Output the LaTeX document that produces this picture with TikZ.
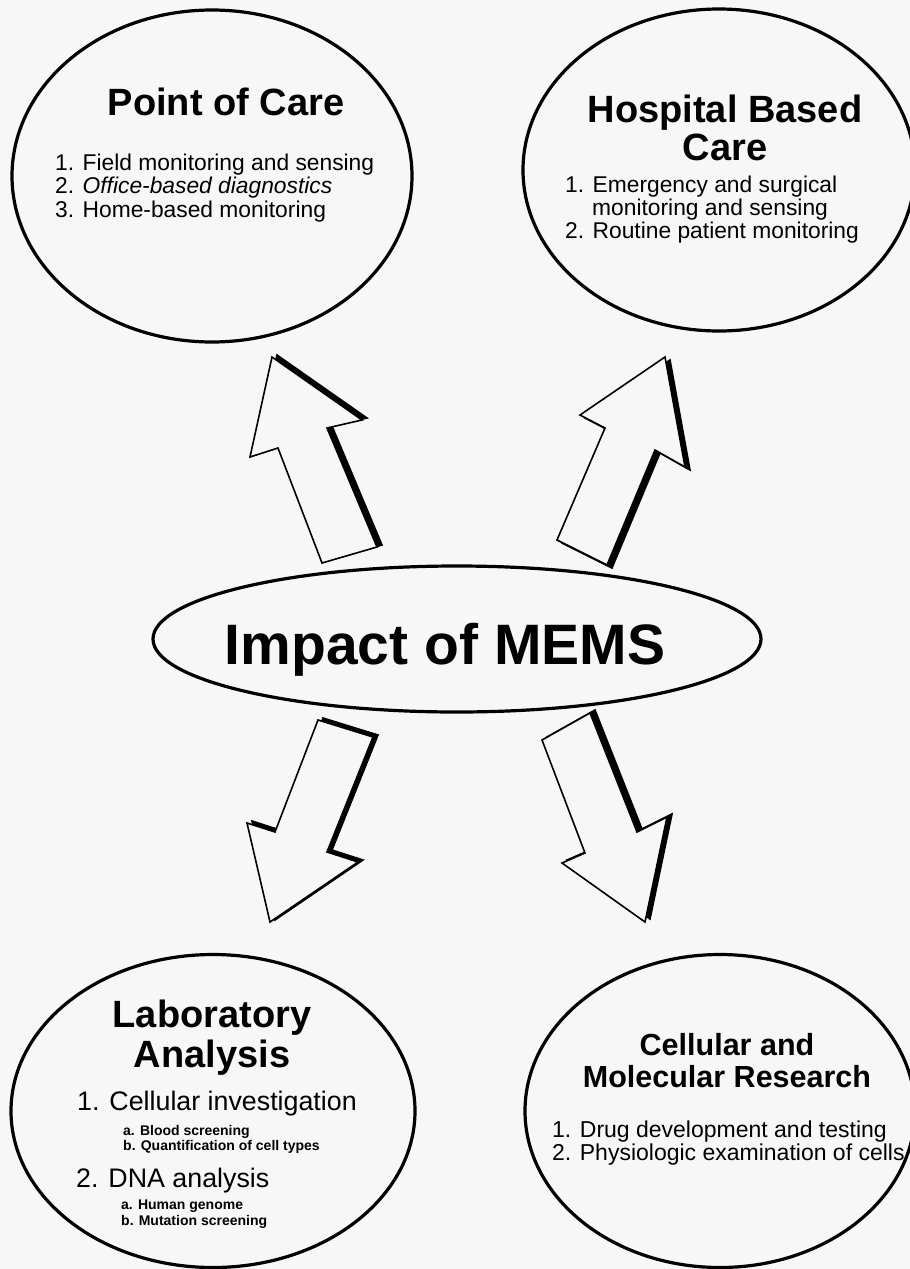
\documentclass[tikz,border=0pt]{standalone}
\usepackage{fontspec}
\setmainfont{Liberation Sans}
\usetikzlibrary{shapes.geometric}
\definecolor{paper}{HTML}{F7F7F7}
\tikzset{
  bubble/.style={ellipse, draw=black, line width=3.2pt, inner sep=0pt},
  title/.style={font=\bfseries\fontsize{38}{38}\selectfont, anchor=base, inner sep=0pt},
  item/.style={font=\fontsize{22.8}{23}\selectfont, anchor=base west, inner sep=0pt},
  subitem/.style={font=\bfseries\fontsize{14}{14}\selectfont, anchor=base west, inner sep=0pt},
  blockarrow/.style={fill=paper, draw=black, line width=1.6pt, line join=miter},
  arrowshadow/.style={fill=black, draw=black, line width=1.6pt}
}
\begin{document}
\begin{tikzpicture}[x=1pt,y=-1pt]
\useasboundingbox[fill=paper] (0,0) rectangle (910,1269);

% block arrows (shadow offset, then arrow body)
\foreach \sx/\sy/\p in {
  5/-2/{(272,357) -- (362,420) -- (327,428) -- (377,547) -- (322,563) -- (278,448) -- (250,457) -- cycle},
  5/3/{(665,357) -- (685,467) -- (655,450) -- (607,565) -- (557,540) -- (605,428) -- (580,415) -- cycle},
  5/-2/{(318,720) -- (373,737) -- (327,852) -- (358,862) -- (270,922) -- (247,823) -- (275,832) -- cycle},
  5/-3/{(542,740) -- (590,713) -- (637,832) -- (667,817) -- (645,922) -- (562,863) -- (585,853) -- cycle}}{
  \draw[arrowshadow, shift={(\sx,\sy)}] \p;
  \draw[blockarrow] \p;
}

% ellipses
\node[bubble, minimum width=400pt, minimum height=332pt] (poc) at (212,176) {};
\node[bubble, minimum width=392pt, minimum height=322pt] (hosp) at (719,170) {};
\node[bubble, minimum width=608pt, minimum height=146pt] (mems) at (457,639) {};
\node[bubble, minimum width=404pt, minimum height=313pt] (lab) at (213,1111) {};
\node[bubble, minimum width=390pt, minimum height=313pt] (cell) at (720,1111) {};

% Point of Care
\node[title] (poct) at (226,115) {Point of Care};
\node[item] (poc1) at (55,170) {1. Field monitoring and sensing};
\node[item] (poc2) at (55,193) {2. \itshape Office-based diagnostics};
\node[item] (poc3) at (55,217) {3. Home-based monitoring};

% Hospital Based Care
\node[title] (hospt1) at (725,122) {Hospital Based};
\node[title] (hospt2) at (725,160) {Care};
\node[item] (hosp1) at (565,192) {1. Emergency and surgical};
\node[item] (hosp1b) at (592,215) {monitoring and sensing};
\node[item] (hosp2) at (565,238) {2. Routine patient monitoring};

% Impact of MEMS
\node[font=\bfseries\fontsize{57}{57}\selectfont, anchor=base, inner sep=0pt] (memst) at (445,664) {Impact of MEMS};

% Laboratory Analysis
\node[title] (labt1) at (212,1027) {Laboratory};
\node[title] (labt2) at (212,1067) {Analysis};
\node[item, font=\fontsize{26.8}{27}\selectfont] (lab1) at (77,1110) {1. Cellular investigation};
\node[subitem] (lab1a) at (123,1135) {a. Blood screening};
\node[subitem] (lab1b) at (123,1150) {b. Quantification of cell types};
\node[item, font=\fontsize{26.8}{27}\selectfont] (lab2) at (76,1187) {2. DNA analysis};
\node[subitem] (lab2a) at (121,1209) {a. Human genome};
\node[subitem] (lab2b) at (121,1225) {b. Mutation screening};

% Cellular and Molecular Research
\node[title, font=\bfseries\fontsize{30.5}{30.5}\selectfont] (cellt1) at (727,1055) {Cellular and};
\node[title, font=\bfseries\fontsize{30.5}{30.5}\selectfont] (cellt2) at (727,1087) {Molecular Research};
\node[item, font=\fontsize{23}{23}\selectfont] (cell1) at (552,1137) {1. Drug development and testing};
\node[item, font=\fontsize{23}{23}\selectfont] (cell2) at (552,1160) {2. Physiologic examination of cells};
\end{tikzpicture}
\end{document}
